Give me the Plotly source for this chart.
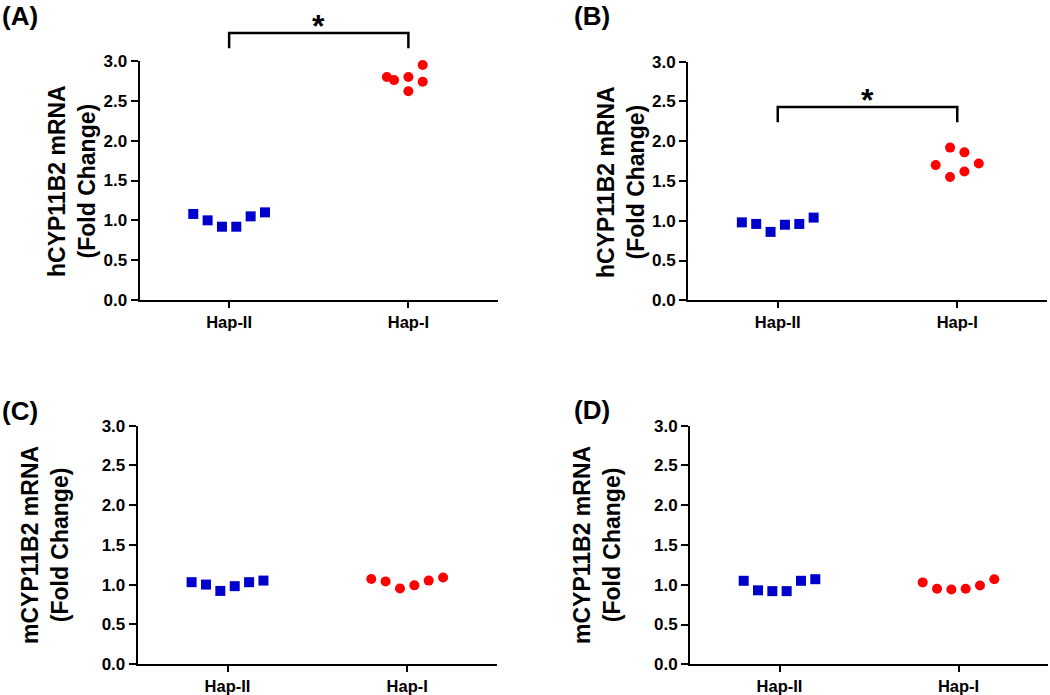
import plotly.graph_objects as go

# ---------------- data ----------------
groups = ["Hap-II", "Hap-I"]
y_ticks = [0.0, 0.5, 1.0, 1.5, 2.0, 2.5, 3.0]

a_hap2 = [1.08, 1.00, 0.92, 0.92, 1.05, 1.10]
a_hap1 = [2.80, 2.76, 2.80, 2.62, 2.95, 2.74]
b_hap2 = [0.98, 0.96, 0.86, 0.95, 0.96, 1.04]
b_hap1 = [1.70, 1.92, 1.55, 1.86, 1.62, 1.72]
c_hap2 = [1.03, 1.00, 0.92, 0.98, 1.03, 1.05]
c_hap1 = [1.07, 1.04, 0.95, 0.99, 1.05, 1.09]
d_hap2 = [1.05, 0.93, 0.92, 0.92, 1.05, 1.07]
d_hap1 = [1.03, 0.95, 0.94, 0.95, 0.99, 1.07]

panel_labels = ["(A)", "(B)", "(C)", "(D)"]
y_titles = ["hCYP11B2 mRNA<br>(Fold Change)", "hCYP11B2 mRNA<br>(Fold Change)",
            "mCYP11B2 mRNA<br>(Fold Change)", "mCYP11B2 mRNA<br>(Fold Change)"]
sig_bracket_y = [3.35, 2.43, None, None]

# ---------------- layout / style ----------------
W, H = 1050, 695
FONT = "Liberation Sans, Arial, sans-serif"
BLUE = "#0000CC"
RED = "#FF0000"

spread = [-0.2, -0.12, -0.04, 0.04, 0.12, 0.2]
jitter = {
    "a1": [-0.12, -0.08, 0.0, 0.0, 0.08, 0.08],
    "b1": [-0.12, -0.04, -0.04, 0.04, 0.04, 0.12],
}

# pixel boxes: left, right, top, bottom
boxes = [(139.5, 498, 61, 300), (688, 1047, 61.7, 300.3),
         (137.7, 497, 425.7, 664), (690, 1048, 425.7, 664.3)]
title_pos = [(72, 181), (621, 182), (45, 545), (597, 545)]
label_pos = [(1, 16), (573, 16), (1, 411), (573, 410)]

panels = [
    (a_hap2, a_hap1, spread, jitter["a1"]),
    (b_hap2, b_hap1, spread, jitter["b1"]),
    (c_hap2, c_hap1, spread, spread),
    (d_hap2, d_hap1, spread, spread),
]

XR = [-0.5, 1.5]
YR = [0.0, 3.0]

fig = go.Figure()
layout = dict(width=W, height=H,
              margin=dict(l=0, r=0, t=0, b=0, pad=0, autoexpand=False),
              paper_bgcolor="white", plot_bgcolor="white", showlegend=False,
              font=dict(family=FONT, color="black"))
annotations = []
shapes = []

for i, ((h2, h1, off2, off1), (l, r, t, b)) in enumerate(zip(panels, boxes)):
    n = "" if i == 0 else str(i + 1)
    xd = [l / W, r / W]
    yd = [1 - b / H, 1 - t / H]
    ax = dict(domain=xd, range=XR, tickvals=[0, 1], ticktext=groups,
              showline=True, linecolor="black", linewidth=2, ticks="outside",
              ticklen=6, tickwidth=2, tickcolor="black", showgrid=False,
              zeroline=False, anchor="y" + n, automargin=False,
              tickfont=dict(family=FONT, size=16.5, weight="bold", color="black"))
    ay = dict(domain=yd, range=YR, tickvals=y_ticks, tickformat=".1f",
              showline=True, linecolor="black", linewidth=2, ticks="outside",
              ticklen=7, tickwidth=2, tickcolor="black", showgrid=False,
              zeroline=False, anchor="x" + n, automargin=False,
              tickfont=dict(family=FONT, size=17, weight="bold", color="black"))
    layout["xaxis" + n] = ax
    layout["yaxis" + n] = ay

    fig.add_trace(go.Scatter(
        x=[0 + o for o in off2], y=h2, mode="markers", xaxis="x" + n, yaxis="y" + n,
        marker=dict(symbol="square", size=10, color=BLUE, line=dict(width=0)),
        cliponaxis=False))
    fig.add_trace(go.Scatter(
        x=[1 + o for o in off1], y=h1, mode="markers", xaxis="x" + n, yaxis="y" + n,
        marker=dict(symbol="circle", size=10, color=RED, line=dict(width=0)),
        cliponaxis=False))

    # y-axis title
    tx, ty = title_pos[i]
    annotations.append(dict(text="<b>" + y_titles[i] + "</b>", x=tx / W, y=1 - ty / H,
                            xref="paper", yref="paper", xanchor="center", yanchor="middle",
                            textangle=-90, showarrow=False,
                            font=dict(family=FONT, size=23, color="black")))
    # panel label
    px, py = label_pos[i]
    annotations.append(dict(text="<b>" + panel_labels[i] + "</b>", x=px / W, y=1 - py / H,
                            xref="paper", yref="paper", xanchor="left", yanchor="middle",
                            showarrow=False, borderpad=0,
                            font=dict(family=FONT, size=26, color="black")))

    # significance bracket
    if sig_bracket_y[i] is not None:
        def to_py(v):
            frac = (v - YR[0]) / (YR[1] - YR[0])
            return yd[0] + frac * (yd[1] - yd[0])
        top = to_py(sig_bracket_y[i])
        leg = to_py(sig_bracket_y[i] - 0.19)
        x0, x1 = 0, 1
        shapes.append(dict(type="path", xref="x" + n, yref="paper",
                           path=f"M {x0},{leg} L {x0},{top} L {x1},{top} L {x1},{leg}",
                           line=dict(color="black", width=2.5)))
        annotations.append(dict(text="<b>*</b>", x=0.5, y=top, xref="x" + n, yref="paper",
                                xanchor="center", yanchor="bottom", yshift=-13,
                                showarrow=False,
                                font=dict(family=FONT, size=32, color="black")))

layout["annotations"] = annotations
layout["shapes"] = shapes
fig.update_layout(**layout)
fig.write_html("out.html",
               config={"displayModeBar": False},
               post_script="document.body.style.margin='0px';"
                           "document.body.style.overflow='hidden';")
